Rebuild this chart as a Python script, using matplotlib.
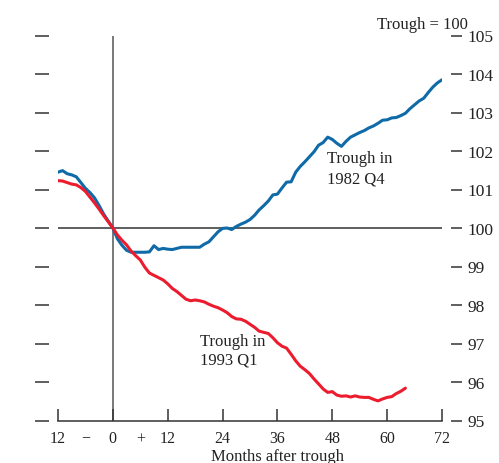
import matplotlib
matplotlib.use("Agg")
import matplotlib.pyplot as plt
import matplotlib.transforms as mtransforms

months_1982 = list(range(-12, 73))
trough_1982 = [101.45, 101.49, 101.41, 101.38, 101.33, 101.18, 101.03, 100.92, 100.78, 100.58,
               100.36, 100.18, 100.00, 99.72, 99.55, 99.42, 99.37, 99.37, 99.37, 99.37,
               99.38, 99.54, 99.44, 99.47, 99.45, 99.44, 99.47, 99.50, 99.50, 99.50,
               99.50, 99.50, 99.58, 99.64, 99.77, 99.90, 99.99, 100.00, 99.96, 100.04,
               100.10, 100.15, 100.22, 100.33, 100.47, 100.58, 100.70, 100.86, 100.88, 101.04,
               101.19, 101.20, 101.45, 101.60, 101.72, 101.85, 101.98, 102.15, 102.22, 102.36,
               102.30, 102.20, 102.12, 102.25, 102.36, 102.42, 102.48, 102.53, 102.60, 102.65,
               102.72, 102.80, 102.81, 102.86, 102.87, 102.92, 102.98, 103.10, 103.20, 103.30,
               103.37, 103.52, 103.66, 103.77, 103.85]

months_1993 = list(range(-12, 65))
trough_1993 = [101.23, 101.22, 101.18, 101.14, 101.12, 101.05, 100.95, 100.80, 100.65, 100.49,
               100.32, 100.16, 100.00, 99.82, 99.68, 99.56, 99.40, 99.28, 99.17, 98.98,
               98.83, 98.77, 98.71, 98.65, 98.55, 98.43, 98.35, 98.25, 98.15, 98.11,
               98.13, 98.11, 98.08, 98.02, 97.97, 97.93, 97.87, 97.80, 97.70, 97.64,
               97.63, 97.58, 97.50, 97.42, 97.32, 97.29, 97.26, 97.15, 97.02, 96.93,
               96.88, 96.72, 96.55, 96.41, 96.32, 96.22, 96.08, 95.95, 95.82, 95.73,
               95.75, 95.66, 95.63, 95.64, 95.61, 95.64, 95.61, 95.60, 95.60, 95.55,
               95.51, 95.56, 95.60, 95.62, 95.70, 95.76, 95.84]

x_ticks = [-12, 0, 12, 24, 36, 48, 60, 72]
x_tick_labels = ["12", "0", "12", "24", "36", "48", "60", "72"]
sign_ticks = [-6, 6]
sign_labels = ["\u2212", "+"]
y_ticks = [95, 96, 97, 98, 99, 100, 101, 102, 103, 104, 105]

BLUE = "#0f6aa8"
RED = "#ec1c2e"
AX = "#333333"

plt.rcParams['font.family'] = ['Liberation Serif', 'DejaVu Serif']

fig = plt.figure(figsize=(4.99, 4.64), dpi=100)
ax = fig.add_axes([58/499, 1-421.5/464, 384/499, 385/464])

ax.axhline(100, color=AX, lw=1.1, zorder=1)
ax.axvline(0, color="#555555", lw=1.1, zorder=1)
ax.plot(months_1982, trough_1982, color=BLUE, lw=2.2, zorder=3, solid_capstyle='round')
ax.plot(months_1993, trough_1993, color=RED, lw=2.2, zorder=4, solid_capstyle='round')

ax.set_xlim(-12, 72)
ax.set_ylim(95, 105)

for s in ['top', 'right']:
    ax.spines[s].set_visible(False)
ax.spines['bottom'].set_color(AX)
ax.spines['bottom'].set_linewidth(1.1)
ax.spines['left'].set_position(('outward', 16.5))
ax.spines['left'].set_visible(False)

ax.set_xticks(x_ticks)
ax.set_xticklabels(x_tick_labels)
ax.set_xticks(sign_ticks, minor=True)
ax.set_xticklabels(sign_labels, minor=True)
ax.tick_params(axis='x', which='major', direction='in', length=8.6, width=1.1, color=AX,
               pad=7, labelsize=11.5, labelcolor="#222222")
ax.tick_params(axis='x', which='minor', length=0, pad=7, labelsize=11.5, labelcolor="#222222")

ax.set_yticks(y_ticks)
ax.tick_params(axis='y', direction='in', length=10, width=1.1, color=AX, labelleft=False)

ax2 = ax.twinx()
ax2.set_ylim(95, 105)
ax2.set_yticks(y_ticks)
ax2.set_yticklabels([str(v) for v in y_ticks])
for s in ['top', 'left', 'bottom', 'right']:
    ax2.spines[s].set_visible(False)
ax2.spines['right'].set_position(('outward', 6.5))
ax2.tick_params(axis='y', direction='out', length=8, width=1.1, color=AX, pad=4,
                labelsize=12.5, labelcolor="#222222")

fs = 12
ax.text(77.7, 105.3, "Trough = 100", ha='right', va='center', fontsize=fs,
        color="#222222", clip_on=False)
ax.text(46.8, 101.71, "Trough in", ha='left', va='baseline', fontsize=fs, color="#222222")
ax.text(46.8, 101.19, "1982 Q4", ha='left', va='baseline', fontsize=fs, color="#222222")
ax.text(19.0, 96.96, "Trough in", ha='left', va='baseline', fontsize=fs, color="#222222")
ax.text(19.0, 96.49, "1993 Q1", ha='left', va='baseline', fontsize=fs, color="#222222")

trans = mtransforms.blended_transform_factory(ax.transData, ax.transAxes)
ax.text(36, -35.5/385, "Months after trough", ha='center', va='center', fontsize=fs,
        color="#222222", transform=trans)

fig.savefig("out.png", dpi=100)
